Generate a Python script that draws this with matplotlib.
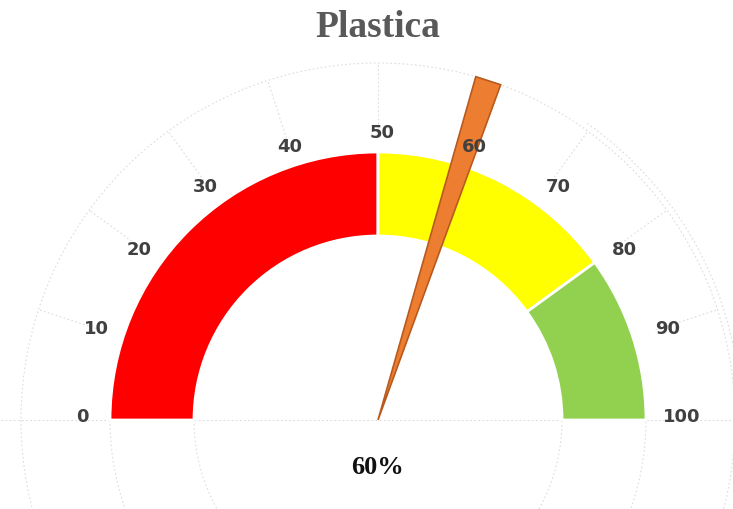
import numpy as np
import matplotlib
matplotlib.use("Agg")
import matplotlib.pyplot as plt
from matplotlib.patches import Wedge, Polygon, Arc

# gauge data
title = "Plastica"
band_edges = [0, 50, 80, 100]
band_colors = ["#FF0000", "#FFFF00", "#92D050"]
tick_values = [0, 10, 20, 30, 40, 50, 60, 70, 80, 90, 100]
needle_value = 60

R_IN, R_OUT = 184, 268
R_GRID = 357


def angle(v):
    # 0 on the left, 100 on the right
    return 180 - 1.8 * v


fig = plt.figure(figsize=(7.33, 5.09), dpi=100)
ax = fig.add_axes([0, 0, 1, 1])
ax.set_xlim(-378, 355)
ax.set_ylim(-89, 420)
ax.set_aspect("equal")
ax.axis("off")

grid_kw = dict(color="#DCDCDC", lw=0.8, ls=(0, (1.5, 2.2)), zorder=0)

# faint background grid (hidden lower half of the donut, outer ring)
for r in (R_IN, R_OUT, R_GRID):
    ax.add_patch(Arc((0, 0), 2 * r, 2 * r, theta1=180, theta2=360, **grid_kw))
ax.add_patch(Arc((0, 0), 2 * R_GRID, 2 * R_GRID, theta1=0, theta2=180, **grid_kw))
ax.add_patch(Arc((0, 0), 2 * (R_GRID + 6), 2 * (R_GRID + 6), theta1=0, theta2=55, **grid_kw))
ax.plot([-R_GRID - 20, R_GRID + 20], [0, 0], **grid_kw)
for v in tick_values[1:-1]:
    a = np.radians(angle(v))
    ax.plot([292 * np.cos(a), R_GRID * np.cos(a)],
            [292 * np.sin(a), R_GRID * np.sin(a)], **grid_kw)

# colour bands
for lo, hi, c in zip(band_edges[:-1], band_edges[1:], band_colors):
    ax.add_patch(Wedge((0, 0), R_OUT, angle(hi), angle(lo), width=R_OUT - R_IN,
                       facecolor=c, edgecolor="white", lw=2, zorder=2))

# needle
a = np.radians(angle(needle_value))
half = np.radians(2.1)
needle = Polygon([(0, 0),
                  (R_GRID * np.cos(a - half), R_GRID * np.sin(a - half)),
                  (R_GRID * np.cos(a + half), R_GRID * np.sin(a + half))],
                 closed=True, facecolor="#ED7D31", edgecolor="#B85A1E", lw=1.2, zorder=4)
ax.add_patch(needle)

# tick labels (placed on a slightly flattened ring, drawn over the needle)
for v in tick_values:
    a = np.radians(angle(v))
    ax.text(4 + 300 * np.cos(a), 3 + 284 * np.sin(a), str(v),
            ha="center", va="center", fontsize=13, fontweight="bold",
            color="#404040", family="DejaVu Sans", zorder=5)

ax.text(0, -48, f"{needle_value}%", ha="center", va="center", fontsize=19,
        fontweight="bold", family="Liberation Serif", color="#111111")
fig.text(0.515, 0.945, title, ha="center", va="center", fontsize=27,
         fontweight="bold", family="Liberation Serif", color="#595959")

fig.savefig("out.png", dpi=100)
